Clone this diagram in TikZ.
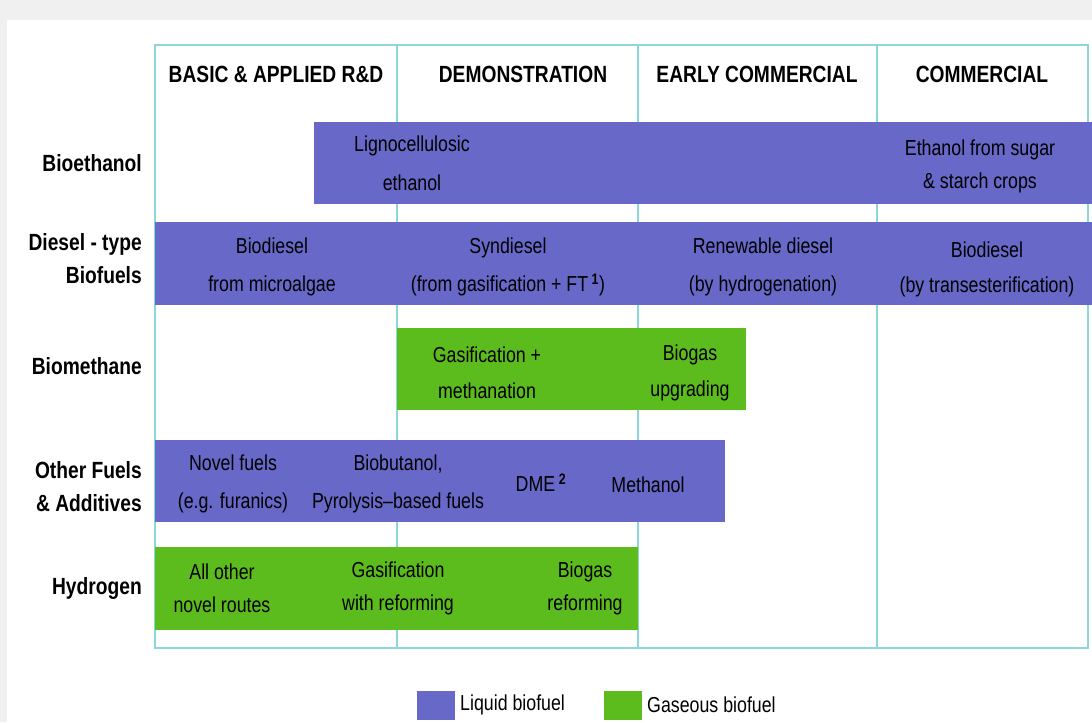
\documentclass[tikz,border=0pt]{standalone}
\usepackage{fontspec}
\setmainfont[FakeStretch=0.82]{Liberation Sans}
\usetikzlibrary{positioning}
\definecolor{liquid}{RGB}{104,104,200}
\definecolor{gaseous}{RGB}{92,188,30}
\definecolor{gridc}{RGB}{140,214,222}

\begin{document}
\begin{tikzpicture}[x=0.03cm, y=-0.03cm,
  grid/.style={draw=gridc, line width=1.5pt},
  liq/.style={fill=liquid},
  gas/.style={fill=gaseous},
  head/.style={font=\bfseries\fontsize{20}{24}\selectfont, inner sep=0pt},
  row/.style={font=\bfseries\fontsize{20}{28}\selectfont, align=right, anchor=east, inner sep=0pt},
  txt/.style={font=\fontsize{18.5}{33}\selectfont, align=center, inner sep=0pt},
  key/.style={font=\fontsize{18.5}{22}\selectfont, anchor=west, inner sep=0pt}]
\useasboundingbox (0,0) rectangle (1092,722);
\fill[gray!12] (0,0) rectangle (1092,722);
\fill[white] (7,20) rectangle (1092,722);
% stage grid
\draw[grid] (155,45) rectangle (1088,648);
\foreach \x in {397,638,877}
  \draw[grid] (\x,45) -- (\x,648);
\node[head] (rd) at (276,74) {BASIC \& APPLIED R\&D};
\node[head] (demo) at (523,74) {DEMONSTRATION};
\node[head] (early) at (757,74) {EARLY COMMERCIAL};
\node[head] (comm) at (982,74) {COMMERCIAL};
% bars
\fill[liq] (314,122) rectangle (1092,204);
\fill[liq] (155,222) rectangle (1092,305);
\fill[gas] (397,328) rectangle (746,410);
\fill[liq] (155,440) rectangle (725,522);
\fill[gas] (155,547) rectangle (638,630);
% row labels
\node[row] (eth) at (142,163) {Bioethanol};
\node[row] (dsl) at (142,259) {Diesel - type\\Biofuels};
\node[row] (meth) at (142,366) {Biomethane};
\node[row] (oth) at (142,487) {Other Fuels\\\& Additives};
\node[row] (hyd) at (142,588) {Hydrogen};
% bar texts
\node[txt] (ligno) at (412,163) {Lignocellulosic\\ethanol};
\node[txt, font=\fontsize{18.5}{28}\selectfont] (sugar) at (980,166) {Ethanol from sugar\\\& starch crops};
\node[txt] (algae) at (272,267) {Biodiesel\\from microalgae};
\node[txt] (syn) at (508,267) {Syndiesel\\(from gasification + FT\,\textsuperscript{\bfseries 1})};
\node[txt] (hydro) at (763,267) {Renewable diesel\\(by hydrogenation)};
\node[txt, font=\fontsize{18.5}{30}\selectfont] (trans) at (987,269) {Biodiesel\\(by transesterification)};
\node[txt, font=\fontsize{18.5}{31}\selectfont] (gasmeth) at (487,373) {Gasification +\\methanation};
\node[txt, font=\fontsize{18.5}{31}\selectfont] (upgr) at (690,373) {Biogas\\upgrading};
\node[txt] (novel) at (233,484) {Novel fuels\\(e.g. furanics)};
\node[txt] (butan) at (398,484) {Biobutanol,\\Pyrolysis--based fuels};
\node[txt] (dme) at (541,483) {DME\,\textsuperscript{\bfseries 2}};
\node[txt] (methanol) at (648,485) {Methanol};
\node[txt, font=\fontsize{18.5}{28}\selectfont] (allother) at (222,588) {All other\\novel routes};
\node[txt, font=\fontsize{18.5}{28}\selectfont] (gasref) at (398,588) {Gasification\\with reforming};
\node[txt, font=\fontsize{18.5}{28}\selectfont] (bioref) at (585,588) {Biogas\\reforming};
% legend
\fill[liq] (417,691) rectangle (455,720);
\node[key] (lkey) at (460,705) {Liquid biofuel};
\fill[gas] (604,691) rectangle (642,720);
\node[key] (gkey) at (647,705) {Gaseous biofuel};
\end{tikzpicture}
\end{document}
